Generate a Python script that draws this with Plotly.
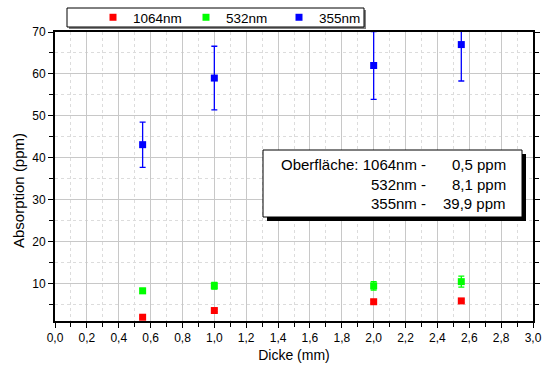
import plotly.graph_objects as go

thickness = [0.55, 1.0, 2.0, 2.55]
abs_1064 = [1.9, 3.5, 5.6, 5.8]
err_1064 = [0.3, 0.3, 0.4, 0.4]
abs_532 = [8.2, 9.4, 9.4, 10.4]
err_532 = [0.6, 0.8, 1.0, 1.3]
abs_355 = [43.1, 59.0, 62.0, 67.0]
err_355 = [5.4, 7.6, 8.1, 8.7]

series = [
    ("1064nm", abs_1064, err_1064, "#ff0000"),
    ("532nm", abs_532, err_532, "#00ff00"),
    ("355nm", abs_355, err_355, "#0000ff"),
]

box_lines = [
    ("Oberfläche: 1064nm -", "0,5 ppm"),
    ("532nm -", "8,1 ppm"),
    ("355nm -", "39,9 ppm"),
]

FONT = "Liberation Sans, Arial, sans-serif"
L, R, T, B = 55, 533, 32, 321
W, H = R - L, B - T


def px(x):
    return (x - L) / W


def py(y):
    return (B - y) / H


fig = go.Figure()
for name, ys, es, col in series:
    fig.add_trace(go.Scatter(
        x=thickness, y=ys, mode="markers", name=name,
        marker=dict(symbol="square", size=7, color=col),
        error_y=dict(type="data", array=es, visible=True, color=col,
                     thickness=1.3, width=3),
    ))

# legend box
fig.add_shape(type="rect", xref="paper", yref="paper",
              x0=px(69), x1=px(366), y0=py(29), y1=py(10),
              fillcolor="#808080", line=dict(width=0), layer="above")
fig.add_shape(type="rect", xref="paper", yref="paper",
              x0=px(67), x1=px(364), y0=py(27), y1=py(8),
              fillcolor="white", line=dict(color="black", width=1), layer="above")

# annotation box with shadow
bx0, bx1, by0, by1 = 263, 522, 150, 217
fig.add_shape(type="rect", xref="paper", yref="paper",
              x0=px(bx0 + 4), x1=px(bx1 + 4), y0=py(by1 + 4), y1=py(by0 + 4),
              fillcolor="black", line=dict(width=0), layer="above")
fig.add_shape(type="rect", xref="paper", yref="paper",
              x0=px(bx0), x1=px(bx1), y0=py(by1), y1=py(by0),
              fillcolor="white", line=dict(color="black", width=1), layer="above")
line_y = [165, 184, 203]
for (lab, val), yy in zip(box_lines, line_y):
    fig.add_annotation(xref="paper", yref="paper", x=px(428), y=py(yy),
                       text=lab, showarrow=False, xanchor="right", yanchor="middle",
                       font=dict(family=FONT, size=15, color="black"))
    fig.add_annotation(xref="paper", yref="paper", x=px(508), y=py(yy),
                       text=val, showarrow=False, xanchor="right", yanchor="middle",
                       font=dict(family=FONT, size=15, color="black"))

# y axis title
fig.add_annotation(xref="paper", yref="paper", x=px(18), y=py(191),
                   text="Absorption (ppm)", showarrow=False, textangle=-90,
                   xanchor="center", yanchor="middle",
                   font=dict(family=FONT, size=15, color="black"))

fig.update_layout(
    width=542, height=367,
    margin=dict(l=L, r=542 - R, t=T, b=367 - B, autoexpand=False),
    paper_bgcolor="white", plot_bgcolor="white",
    separators=",.",
    font=dict(family=FONT, size=12, color="black"),
    showlegend=True,
    legend=dict(orientation="h", x=px(93), xanchor="left",
                y=py(17.5), yanchor="middle",
                bgcolor="rgba(0,0,0,0)", borderwidth=0,
                font=dict(family=FONT, size=13.5),
                entrywidth=48, entrywidthmode="pixels",
                itemwidth=30, tracegroupgap=0),
)
fig.update_xaxes(
    range=[0, 3.0], tick0=0, dtick=0.2, tickformat=".1f",
    showgrid=True, gridcolor="#c8c8c8", gridwidth=1,
    minor=dict(dtick=0.1, showgrid=True, gridcolor="#dcdcdc", griddash="dot",
               ticks="outside", ticklen=4, tickcolor="black"),
    ticks="outside", ticklen=5, tickcolor="black", tickwidth=1,
    showline=True, linecolor="black", linewidth=2, mirror=True,
    zeroline=False, automargin=False,
    title=dict(text="Dicke (mm)", font=dict(size=14), standoff=6),
    tickfont=dict(size=12),
)
fig.update_yaxes(
    range=[1, 70], tick0=0, dtick=10,
    showgrid=True, gridcolor="#c8c8c8", gridwidth=1,
    minor=dict(dtick=5, showgrid=True, gridcolor="#dcdcdc", griddash="dot",
               ticks="outside", ticklen=4, tickcolor="black"),
    ticks="outside", ticklen=5, tickcolor="black", tickwidth=1,
    showline=True, linecolor="black", linewidth=2, mirror="allticks",
    zeroline=False, automargin=False,
    tickfont=dict(size=12),
)

fig.write_html("out.html")
